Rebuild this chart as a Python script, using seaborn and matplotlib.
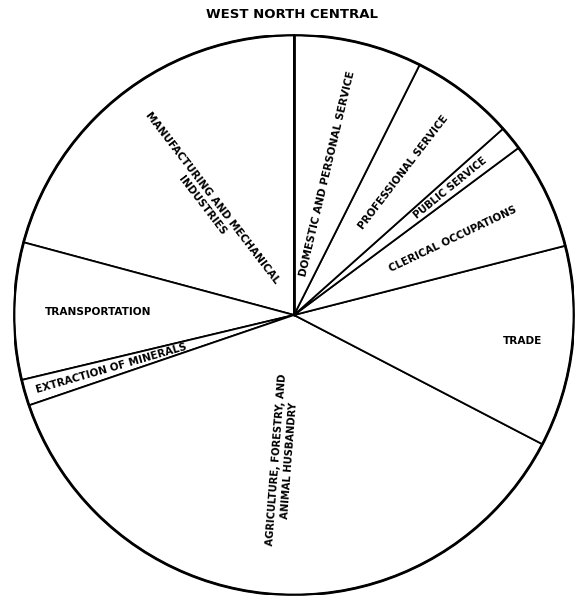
import numpy as np
import matplotlib
matplotlib.use("Agg")
import matplotlib.pyplot as plt
import seaborn as sns

# Data (percent of gainfully employed)
occupations = [
    "MANUFACTURING AND MECHANICAL\nINDUSTRIES",
    "TRANSPORTATION",
    "EXTRACTION OF MINERALS",
    "AGRICULTURE, FORESTRY, AND\nANIMAL HUSBANDRY",
    "TRADE",
    "CLERICAL OCCUPATIONS",
    "PUBLIC SERVICE",
    "PROFESSIONAL SERVICE",
    "DOMESTIC AND PERSONAL SERVICE",
]
shares = [20.8, 7.9, 1.5, 37.1, 11.6, 6.2, 1.4, 6.0, 7.4]

# Label layout: distance from centre (fraction of radius) and orientation mode
label_radius = [0.51, 0.70, 0.68, 0.52, 0.82, 0.63, 0.72, 0.64, 0.52]
label_mode = ["flip", "flat", "flip", "flip", "flat", "radial", "radial", "radial", "radial"]
label_size = [7.6, 7.6, 7.4, 7.2, 7.6, 7.4, 7.2, 7.4, 7.6]

sns.set_style("white")
plt.rcParams["font.family"] = ["DejaVu Sans"]
plt.rcParams["text.color"] = "black"

fig = plt.figure(figsize=(5.76, 6.0), dpi=100)
ax = fig.add_axes([14 / 576, 5 / 600, 560 / 576, 560 / 600])

wedges, _ = ax.pie(
    shares,
    startangle=90,
    counterclock=True,
    colors=["white"] * len(shares),
    wedgeprops=dict(edgecolor="black", linewidth=1.3),
    radius=1.0,
)
ax.add_patch(plt.Circle((0, 0), 1.0, fill=False, edgecolor="black", linewidth=2.0))
ax.plot([0, 0], [0, 1], color="black", lw=2.0)

for w, lab, r, mode, fs in zip(wedges, occupations, label_radius, label_mode, label_size):
    mid = (w.theta1 + w.theta2) / 2
    x = r * np.cos(np.radians(mid))
    y = r * np.sin(np.radians(mid))
    if mode == "flat":
        rot = 0
    elif mode == "flip":
        rot = mid - 180
    else:
        rot = mid
    ax.text(x, y, lab, rotation=rot, rotation_mode="anchor", ha="center", va="center",
            fontsize=fs, fontweight="heavy", color="black",
            multialignment="center", linespacing=1.3)

ax.set_xlim(-1, 1)
ax.set_ylim(-1, 1)
ax.set_aspect("equal")
ax.axis("off")

fig.text(292 / 576, 1 - 15 / 600, "WEST NORTH CENTRAL", ha="center", va="center",
         fontsize=9.5, fontweight="heavy", color="black")

fig.savefig("out.png", dpi=100, facecolor="white")
